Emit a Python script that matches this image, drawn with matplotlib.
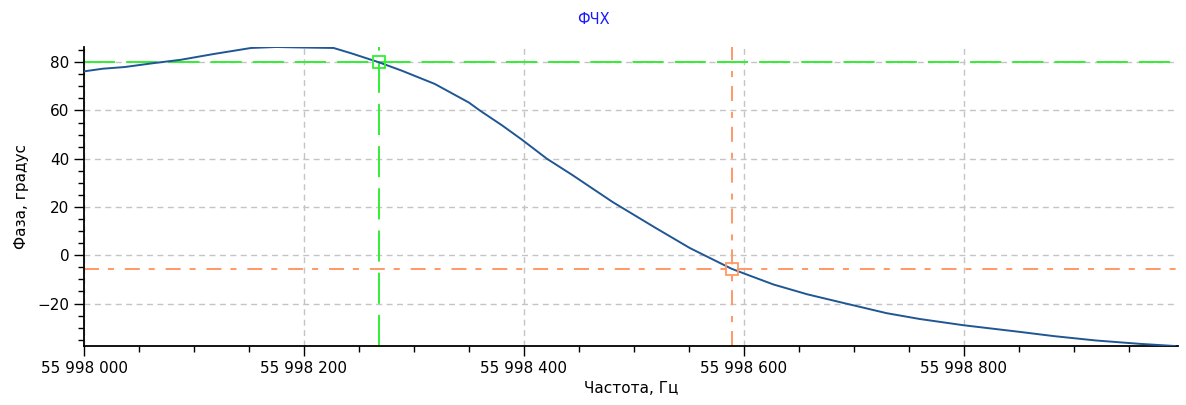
import matplotlib
matplotlib.use("Agg")
import matplotlib.pyplot as plt
from matplotlib.ticker import MultipleLocator, FuncFormatter
import numpy as np

# частота, Гц (смещение от 55 998 000) и фаза, градус
f0 = 55998000
freq_off = [0, 17, 37, 63, 88, 118, 152, 175, 197, 227, 243, 268, 289, 319, 350,
            360, 380, 398, 421, 444, 481, 520, 551, 589, 600, 627, 658,
            692, 730, 760, 800, 852, 882, 920, 960, 992]
phase = [76.2, 77.3, 78.0, 79.6, 81.0, 83.4, 85.9, 86.3, 86.1, 85.9, 83.7, 80.0,
         76.5, 71.0, 63.3, 60.0, 53.9, 48.0, 40.0, 33.3, 22.0, 11.3, 3.0,
         -5.6, -7.5, -12.1, -16.2, -19.9, -24.0, -26.4, -29.0, -31.8,
         -33.5, -35.3, -36.7, -37.6]

# маркеры
m1 = (f0 + 268, 80.0)
m2 = (f0 + 589, -5.6)

freq = np.array(freq_off) + f0

fig = plt.figure(figsize=(11.86, 4.05), dpi=100)
ax = fig.add_axes([84/1186, 1-346/405, 1094/1186, 299/405])

ax.grid(True, which='major', color='#c4c4c4', linestyle=(0, (4.3, 3.2)), linewidth=1.0)
ax.set_axisbelow(True)

ax.plot(freq, phase, color='#1f5693', lw=1.4, zorder=3)

# курсоры
ax.axhline(m1[1], color='#33ee33', lw=1.4, linestyle=(0, (16, 5.7)), zorder=2)
ax.axvline(m1[0], color='#33ee33', lw=1.4, linestyle=(0, (16, 5.7)), zorder=2)
ax.axhline(m2[1], color='#ff9966', lw=1.4, linestyle=(0, (7.7, 4.6, 3.1, 5.6)), zorder=2)
ax.axvline(m2[0], color='#ff9966', lw=1.4, linestyle=(0, (7.7, 4.6, 3.1, 5.6)), zorder=2)
ax.plot(*m1, marker='s', ms=9, mfc='none', mec='#33ee33', mew=1.3, zorder=4)
ax.plot(*m2, marker='s', ms=9, mfc='none', mec='#ff9966', mew=1.3, zorder=4)

ax.set_xlim(f0, f0 + 995)
ax.set_ylim(min(phase), max(phase))
ax.xaxis.set_major_locator(MultipleLocator(200))
ax.xaxis.set_minor_locator(MultipleLocator(50))
ax.yaxis.set_major_locator(MultipleLocator(20))
ax.yaxis.set_minor_locator(MultipleLocator(5))
ax.xaxis.set_major_formatter(FuncFormatter(lambda v, p: f"{int(round(v)):,}".replace(',', ' ')))

for s in ['top', 'right']:
    ax.spines[s].set_visible(False)
for s in ['left', 'bottom']:
    ax.spines[s].set_linewidth(1.3)
ax.tick_params(which='major', length=7, width=1, labelsize=11, colors='black')
ax.tick_params(which='minor', length=4, width=1)

ax.set_xlabel('Частота, Гц', fontsize=11, labelpad=4)
ax.set_ylabel('Фаза, градус', fontsize=11, labelpad=6)
fig.text(0.5, 1-20/405, 'ФЧХ', color='#1a1aff', fontsize=10.5, ha='center', va='center')

fig.savefig('out.png', dpi=100)
